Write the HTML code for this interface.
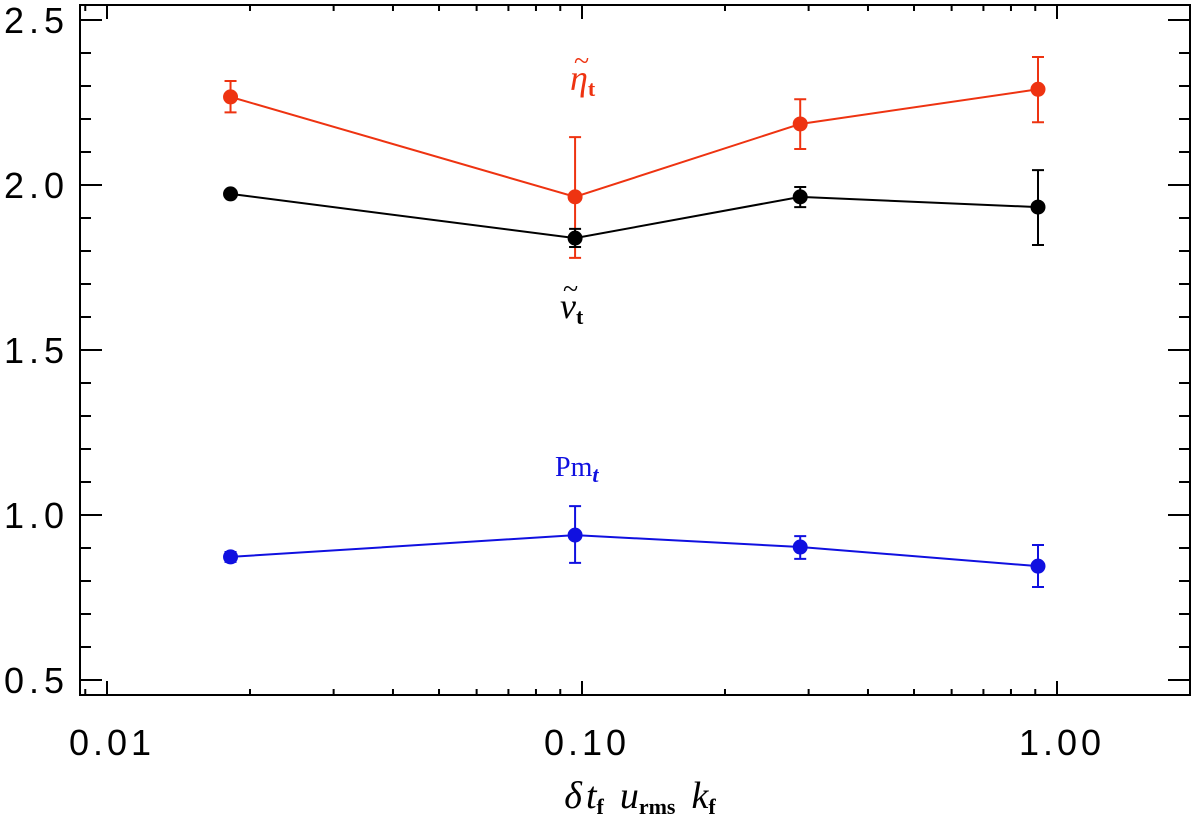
<!DOCTYPE html>
<html><head><meta charset="utf-8"><style>
html,body{margin:0;padding:0;background:#fff;}
.tk{font-family:"Liberation Sans",sans-serif;}
.sf{font-family:"Liberation Serif",serif;}
</style></head><body>
<svg id="chart" width="1200" height="822" viewBox="0 0 1200 822" xmlns="http://www.w3.org/2000/svg">
<g id="axes"></g>
<g id="series"></g>
<g fill="#ee3311" class="sf">
<text class="sf" x="570" y="90" font-size="36" font-style="italic">η<tspan font-size="22" font-style="normal" font-weight="bold" dy="6">t</tspan></text>
<text class="sf" x="574" y="70" font-size="28">~</text>
</g>
<g fill="#000" class="sf">
<text class="sf" x="560" y="318" font-size="36" font-style="italic">ν<tspan font-size="22" font-style="normal" font-weight="bold" dy="6">t</tspan></text>
<text class="sf" x="563" y="298" font-size="28">~</text>
</g>
<text class="sf" x="555" y="476" fill="#1010e0" font-size="28">Pm<tspan font-size="22" font-style="italic" font-weight="bold" dy="6">t</tspan></text>
<text class="sf" x="640" y="808" text-anchor="middle" font-size="38" font-style="italic">δ<tspan dx="4">t</tspan><tspan font-size="22" font-style="normal" font-weight="bold" dy="6">f</tspan><tspan dx="16" dy="-6">u</tspan><tspan font-size="22" font-style="normal" font-weight="bold" dy="6">rms</tspan><tspan dx="16" dy="-6">k</tspan><tspan font-size="22" font-style="normal" font-weight="bold" dy="6">f</tspan></text>
</svg>
<script>
const xVals=[0.0182,0.0967,0.288,0.912];
const etaVals=[2.267,1.964,2.185,2.29];
const etaLo=[2.22,1.779,2.109,2.19];
const etaHi=[2.315,2.145,2.26,2.388];
const nuVals=[1.973,1.839,1.964,1.933];
const nuLo=[1.965,1.812,1.933,1.818];
const nuHi=[1.981,1.867,1.994,2.045];
const pmVals=[0.873,0.939,0.903,0.845];
const pmLo=[0.858,0.855,0.867,0.782];
const pmHi=[0.888,1.027,0.936,0.909];
const yTicks=[0.5,1.0,1.5,2.0,2.5];
const yTickLabels=["0.5","1.0","1.5","2.0","2.5"];
const xTicks=[0.01,0.1,1];
const xTickLabels=["0.01","0.10","1.00"];
const NS="http://www.w3.org/2000/svg";
const L=80,R=1190,T=5,B=695;
function sx(v){return 582+Math.log10(v/0.1)*475;}
function sy(v){return 680-(v-0.5)*330;}
function mk(tag,attrs,parent){const e=document.createElementNS(NS,tag);for(const k in attrs)e.setAttribute(k,attrs[k]);parent.appendChild(e);return e;}
const ax=document.getElementById('axes');
let f=mk('rect',{x:L,y:T,width:R-L,height:B-T,fill:'none',stroke:'#000','stroke-width':2},ax);


for(let v=0.5;v<=2.56;v+=0.1){const y=sy(v);const major=Math.abs(v*2-Math.round(v*2))<1e-6;const len=major?22:11;
 let t=mk('path',{d:`M${L},${y}h${len}M${R},${y}h${-len}`,stroke:'#000','stroke-width':2},ax);
 
 }
yTicks.forEach((v,i)=>{let t=mk('text',{class:'tk',x:64,y:sy(v)+13,'text-anchor':'end','font-size':36,'textLength':60},ax);t.textContent=yTickLabels[i];
 
 });
for(let d=-3;d<=0;d++){for(let m=1;m<10;m++){const v=m*Math.pow(10,d);const x=sx(v);if(x<L||x>R)continue;const len=m===1?14:6;
 let t=mk('path',{d:`M${x},${B}v${-len}M${x},${T}v${len}`,stroke:'#000','stroke-width':2},ax);
 
 }}
xTicks.forEach((v,i)=>{let t=mk('text',{class:'tk',x:sx(v)+3,y:755,'text-anchor':'middle','font-size':36,'textLength':82},ax);t.textContent=xTickLabels[i];
 
 });
const sg=document.getElementById('series');
function series(name,vals,lo,hi,color){
 const g=mk('g',{},sg);
 
 
 let p=mk('polyline',{points:vals.map((v,i)=>sx(xVals[i])+','+sy(v)).join(' '),fill:'none',stroke:color,'stroke-width':2},g);
 
 
 vals.forEach((v,i)=>{const x=sx(xVals[i]);
  let e=mk('path',{d:`M${x},${sy(lo[i])}V${sy(hi[i])}M${x-6},${sy(lo[i])}h12M${x-6},${sy(hi[i])}h12`,stroke:color,'stroke-width':2,fill:'none'},g);
  
  
  let c=mk('circle',{cx:x,cy:sy(v),r:7.5,fill:color},g);
  
  });
}
series('eta',etaVals,etaLo,etaHi,'#ee3311');
series('nu',nuVals,nuLo,nuHi,'#000000');
series('pm',pmVals,pmLo,pmHi,'#1010e0');
</script>
</body></html>
